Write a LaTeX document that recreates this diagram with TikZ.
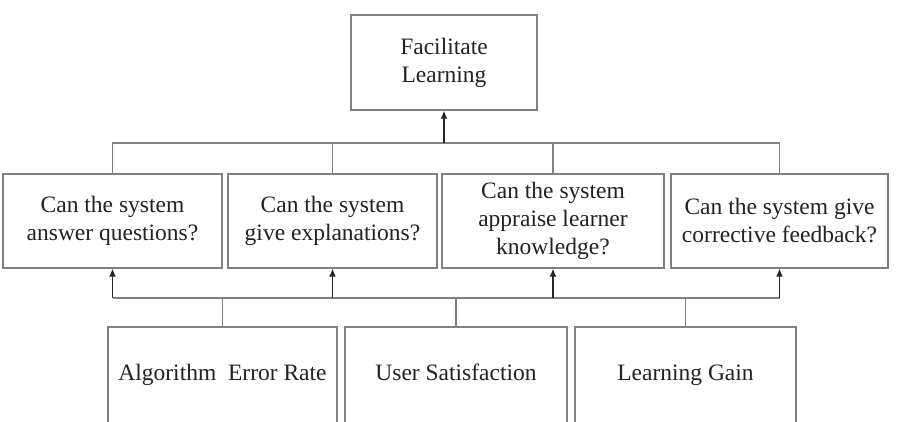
\documentclass[tikz,border=0pt]{standalone}
\usepackage{fontspec}
\setmainfont{Liberation Serif}
\usetikzlibrary{arrows.meta}
\definecolor{wiregray}{RGB}{128,128,128}
\definecolor{textgray}{RGB}{34,34,34}

\begin{document}
\begin{tikzpicture}[x=1pt, y=-1pt,
    box/.style={draw=wiregray, line width=1.3pt, rectangle, align=center,
      text=textgray, font=\fontsize{23.5}{28}\selectfont, inner sep=0pt},
    metric/.style={box, minimum height=96pt, text height=16pt, text depth=5pt},
    wire/.style={draw=wiregray, line width=1.3pt},
    uparrow/.style={draw=black!85, line width=1.4pt, -{Latex[length=8pt, width=7pt]}}]
  \useasboundingbox (0,0) rectangle (897,421);

  % Goal
  \node[box, minimum width=186pt, minimum height=95pt] (goal) at (444,62.5) {Facilitate\\Learning};

  % Questions
  \node[box, minimum width=219pt, minimum height=94pt] (q1) at (112.5,221) {Can the system\\answer questions?};
  \node[box, minimum width=209pt, minimum height=94pt] (q2) at (332.5,221) {Can the system\\give explanations?};
  \node[box, minimum width=222pt, minimum height=94pt] (q3) at (553,221) {Can the system\\appraise learner\\knowledge?};
  \node[box, minimum width=217pt, minimum height=94pt] (q4) at (779.5,221) {Can the system give\\corrective feedback?};

  % Metrics
  \node[metric, minimum width=229pt] (m1) at (222.5,375) {Algorithm\ \ Error Rate};
  \node[metric, minimum width=222pt] (m2) at (456,375) {User Satisfaction};
  \node[metric, minimum width=221pt] (m3) at (685.5,375) {Learning Gain};

  % Buses
  \coordinate (topbus) at (444,143);
  \coordinate (lowbus) at (456,298);

  \draw[wire] (q1.north) |- (topbus) -| (q4.north);
  \draw[wire] (q2.north) -- (q2.north |- topbus);
  \draw[wire] (q3.north) -- (q3.north |- topbus);
  \draw[uparrow] (topbus) -- (goal.south);

  \draw[wire] (q1.south |- lowbus) -- (q4.south |- lowbus);
  \foreach \q in {q1,q2,q3,q4}
    \draw[uparrow] (\q.south |- lowbus) -- (\q.south);
  \foreach \m in {m1,m2,m3}
    \draw[wire] (\m.north) -- (\m.north |- lowbus);
\end{tikzpicture}
\end{document}
